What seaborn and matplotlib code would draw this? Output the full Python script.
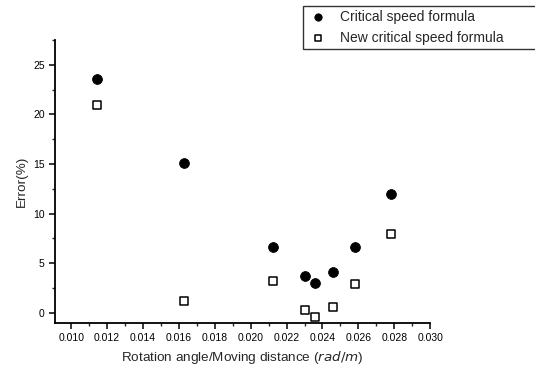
import numpy as np
import pandas as pd
import matplotlib
matplotlib.use("Agg")
import matplotlib.pyplot as plt
import seaborn as sns
from matplotlib.ticker import MultipleLocator

# data
ratio = [0.01141, 0.01627, 0.02123, 0.02301, 0.02361, 0.02460, 0.02584, 0.02781]
err_critical = [23.6, 15.1, 6.6, 3.7, 3.0, 4.1, 6.6, 12.0]
err_new = [20.9, 1.2, 3.2, 0.3, -0.4, 0.6, 2.9, 7.9]
series_names = ["Critical speed formula", "New critical speed formula"]

df = pd.DataFrame({
    "x": ratio + ratio,
    "y": err_critical + err_new,
    "series": [series_names[0]] * len(ratio) + [series_names[1]] * len(ratio),
})

sns.set_style("ticks")
plt.rcParams['font.family'] = ['Liberation Sans', 'DejaVu Sans']

fig = plt.figure(figsize=(5.35, 3.70), dpi=100)
ax = fig.add_axes([0.103, 0.128, 0.701, 0.764])

sns.scatterplot(data=df[df.series == series_names[0]], x="x", y="y", ax=ax,
                marker="o", s=50, color="black", edgecolor="black",
                label=series_names[0], zorder=3)
sns.scatterplot(data=df[df.series == series_names[1]], x="x", y="y", ax=ax,
                marker="s", s=40, facecolor="white", edgecolor="black",
                linewidth=1.1, label=series_names[1], zorder=3)

ax.set_xlim(0.0091, 0.030)
ax.set_ylim(-1.0, 27.5)
ax.xaxis.set_major_locator(MultipleLocator(0.002))
ax.xaxis.set_minor_locator(MultipleLocator(0.001))
ax.yaxis.set_major_locator(MultipleLocator(5))
ax.yaxis.set_minor_locator(MultipleLocator(2.5))
ax.xaxis.set_major_formatter(matplotlib.ticker.FormatStrFormatter("%.3f"))

sns.despine(ax=ax)
for sp in ["left", "bottom"]:
    ax.spines[sp].set_linewidth(1.3)
    ax.spines[sp].set_color("black")
ax.tick_params(which="major", direction="out", length=4, width=1.1,
               labelsize=7.5, colors="black")
ax.tick_params(which="minor", direction="out", length=2.5, width=1.0)

ax.set_xlabel("Rotation angle/Moving distance ($\\it{rad/m}$)", fontsize=9.7)
ax.set_ylabel("Error(%)", fontsize=9.7)

leg = ax.legend(loc="upper left", bbox_to_anchor=(0.566, 0.870, 0.46, 0.114),
                bbox_transform=fig.transFigure, mode="expand",
                frameon=True, fancybox=False, fontsize=10, borderpad=0.3,
                labelspacing=0.5, handletextpad=0.8, handlelength=1.6,
                markerscale=0.75, borderaxespad=0)
leg.get_frame().set_edgecolor("black")
leg.get_frame().set_linewidth(1.0)

fig.savefig("out.png", dpi=100)
